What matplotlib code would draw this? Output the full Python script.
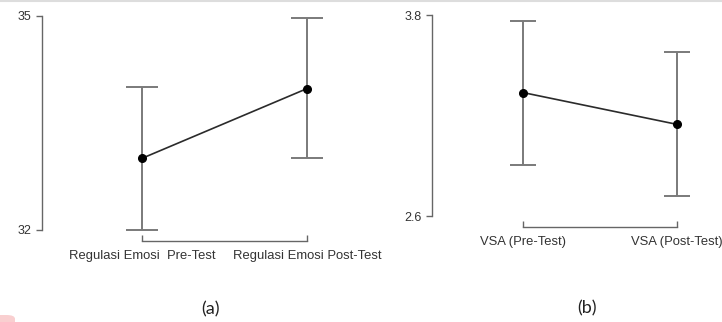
import matplotlib.pyplot as plt
from matplotlib.patches import FancyBboxPatch
from matplotlib.lines import Line2D

# panel (a): emotion regulation
labels_a = ["Regulasi Emosi  Pre-Test", "Regulasi Emosi Post-Test"]
mean_a = [33.0, 33.98]
lower_a = [32.0, 33.0]
upper_a = [34.0, 34.97]
yticks_a = [32, 35]

# panel (b): VSA
labels_b = ["VSA (Pre-Test)", "VSA (Post-Test)"]
mean_b = [3.34, 3.15]
lower_b = [2.91, 2.72]
upper_b = [3.77, 3.58]
yticks_b = [2.6, 3.8]

W, H = 722, 322


def px_axes(fig, left, right, top, bottom):
    return fig.add_axes([left / W, 1 - bottom / H, (right - left) / W, (bottom - top) / H])


def draw_panel(ax, labels, mean, lower, upper, yticks, xlim, capsize, outward, xpad):
    x = list(range(len(labels)))
    err = [[m - lo for m, lo in zip(mean, lower)], [hi - m for m, hi in zip(mean, upper)]]
    ax.errorbar(x, mean, yerr=err, fmt="none", ecolor="#7a7a7a", elinewidth=1.4,
                capsize=capsize, capthick=1.4, zorder=1)
    ax.plot(x, mean, color="#2b2b2b", lw=1.2, zorder=2)
    ax.plot(x, mean, "o", color="black", ms=5.5, zorder=3)
    ax.set_xlim(*xlim)
    ax.set_ylim(yticks[0], yticks[-1])
    ax.set_yticks(yticks)
    ax.set_yticklabels([str(t) for t in yticks])
    ax.set_xticks(x)
    ax.set_xticklabels(labels)
    for s in ["top", "right"]:
        ax.spines[s].set_visible(False)
    ax.spines["left"].set_bounds(yticks[0], yticks[-1])
    ax.spines["bottom"].set_bounds(0, len(labels) - 1)
    ax.spines["bottom"].set_position(("outward", outward))
    for s in ["left", "bottom"]:
        ax.spines[s].set_color("#666666")
        ax.spines[s].set_linewidth(1.0)
    ax.tick_params(axis="y", direction="out", length=4.5, width=1.0, color="#666666",
                   labelsize=9, labelcolor="#333333", pad=3)
    ax.tick_params(axis="x", direction="in", length=4, width=1.0, color="#666666",
                   labelsize=9.4, labelcolor="#333333", pad=xpad)
    for t in ax.get_xticklabels() + ax.get_yticklabels():
        t.set_fontfamily("Liberation Sans")
    ax.patch.set_alpha(0)


fig = plt.figure(figsize=(W / 100, H / 100), dpi=100)

ax_a = px_axes(fig, 42, 395, 16, 229.5)
draw_panel(ax_a, labels_a, mean_a, lower_a, upper_a, yticks_a,
           (-100 / 165, 1 + 88 / 165), 11.5, 8, 7)

ax_b = px_axes(fig, 432, 720, 15.5, 216.5)
draw_panel(ax_b, labels_b, mean_b, lower_b, upper_b, yticks_b,
           (-91 / 154, 1 + 43 / 154), 9.4, 7.2, 6.5)

fig.text(210 / W, 1 - 309 / H, "(a)", ha="center", va="center", fontsize=13,
         fontfamily="Lato", color="#222222")
fig.text(587 / W, 1 - 308 / H, "(b)", ha="center", va="center", fontsize=13,
         fontfamily="Lato", color="#222222")

# light top border and small pink mark from the source page
fig.add_artist(Line2D([0, 1], [1 - 1.0 / H, 1 - 1.0 / H], color="#dddddd", lw=1.5))
fig.add_artist(FancyBboxPatch((-10 / W, 1 - 330 / H), 25 / W, 15 / H,
                              boxstyle="round,pad=0,rounding_size=0.012",
                              fc="#f9cfd0", ec="none", transform=fig.transFigure))

fig.savefig("out.png", dpi=100)
